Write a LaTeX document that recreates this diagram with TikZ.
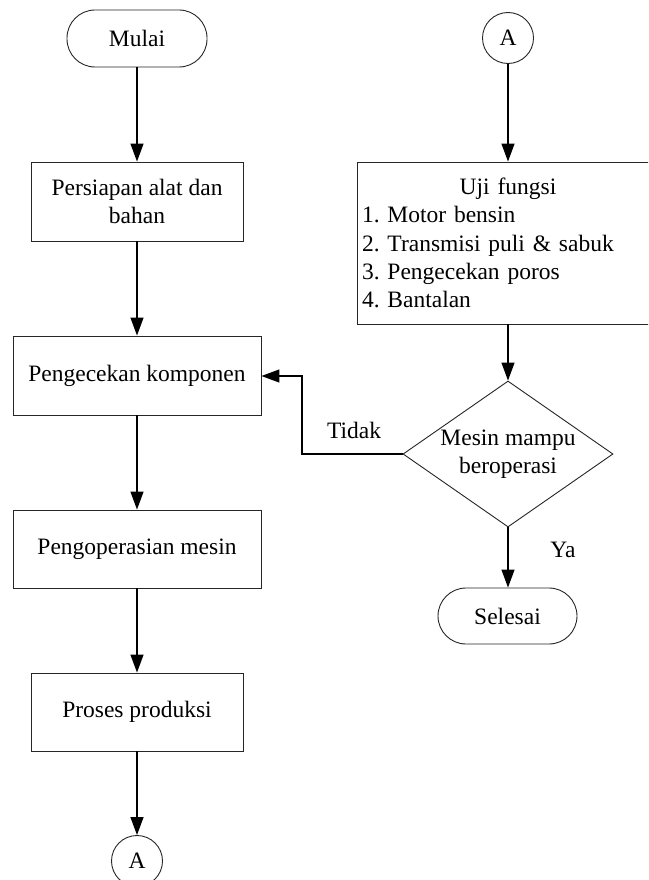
\documentclass[tikz,border=0pt]{standalone}
\usepackage{fontspec}
\setmainfont{Liberation Serif}
\usetikzlibrary{shapes.geometric,arrows.meta}
\frenchspacing
\begin{document}
\begin{tikzpicture}[x=1pt,y=-1pt,
  every node/.style={font=\fontsize{23.5}{28.4}\selectfont},
  shp/.style={draw=black!85,line width=0.9pt},
  procbox/.style={shp,rectangle,inner sep=0pt,align=center},
  term/.style={shp,rectangle,rounded corners=28pt,minimum width=140pt,minimum height=57pt,inner sep=0pt},
  conn/.style={shp,circle,minimum size=51pt,inner sep=0pt},
  decide/.style={shp,diamond,aspect=1.44,inner sep=0pt,minimum width=210pt,minimum height=146pt,align=center},
  flow/.style={draw=black,line width=1.3pt,-{Triangle[length=18pt,width=13pt]}},
  lbl/.style={inner sep=0pt}
]
\useasboundingbox (0,0) rectangle (648,880);
\clip (0,0) rectangle (648,880);
\fill[white] (0,0) rectangle (648,880);

\node[term] (mulai) at (137,38.5) {Mulai};
\node[procbox,minimum width=212pt,minimum height=79pt] (siap) at (137,201.5) {Persiapan alat dan\\bahan};
\node[procbox,minimum width=248pt,minimum height=79pt] (cek) at (137,375.5) {Pengecekan komponen};
\node[procbox,minimum width=248pt,minimum height=78pt] (operasi) at (137,549) {Pengoperasian mesin};
\node[procbox,minimum width=212pt,minimum height=78pt] (produksi) at (137,712) {Proses produksi};
\node[conn] (abot) at (137,861) {A};

\node[conn] (atop) at (508,38) {A};
\node[shp,rectangle,minimum width=302pt,minimum height=162pt,text width=292pt,inner sep=5pt,align=left] (uji) at (508,243)
  {{\centering Uji fungsi\par}1. Motor bensin\\2. Transmisi puli \& sabuk\\3. Pengecekan poros\\4. Bantalan};
\node[decide] (mesin) at (508,454) {Mesin mampu\\beroperasi};
\node[term,minimum width=139pt,minimum height=56pt] (selesai) at (507.5,616) {Selesai};

\node[lbl] (tidak) at (354,430) {Tidak};
\node[lbl] (ya) at (563,550) {Ya};

\coordinate (fb1) at (302,454);
\coordinate (fb2) at (302,376);

\draw[flow] (mulai) -- (siap);
\draw[flow] (siap) -- (cek);
\draw[flow] (cek) -- (operasi);
\draw[flow] (operasi) -- (produksi);
\draw[flow] (produksi) -- (abot);
\draw[flow] (atop) -- (uji);
\draw[flow] (uji.south -| mesin.north) -- (mesin.north);
\draw[flow] (mesin.south) -- (selesai.north -| mesin.south);
\draw[flow] (mesin.west) -- (fb1) -- (fb2) -- (cek.east |- fb2);
\end{tikzpicture}
\end{document}
